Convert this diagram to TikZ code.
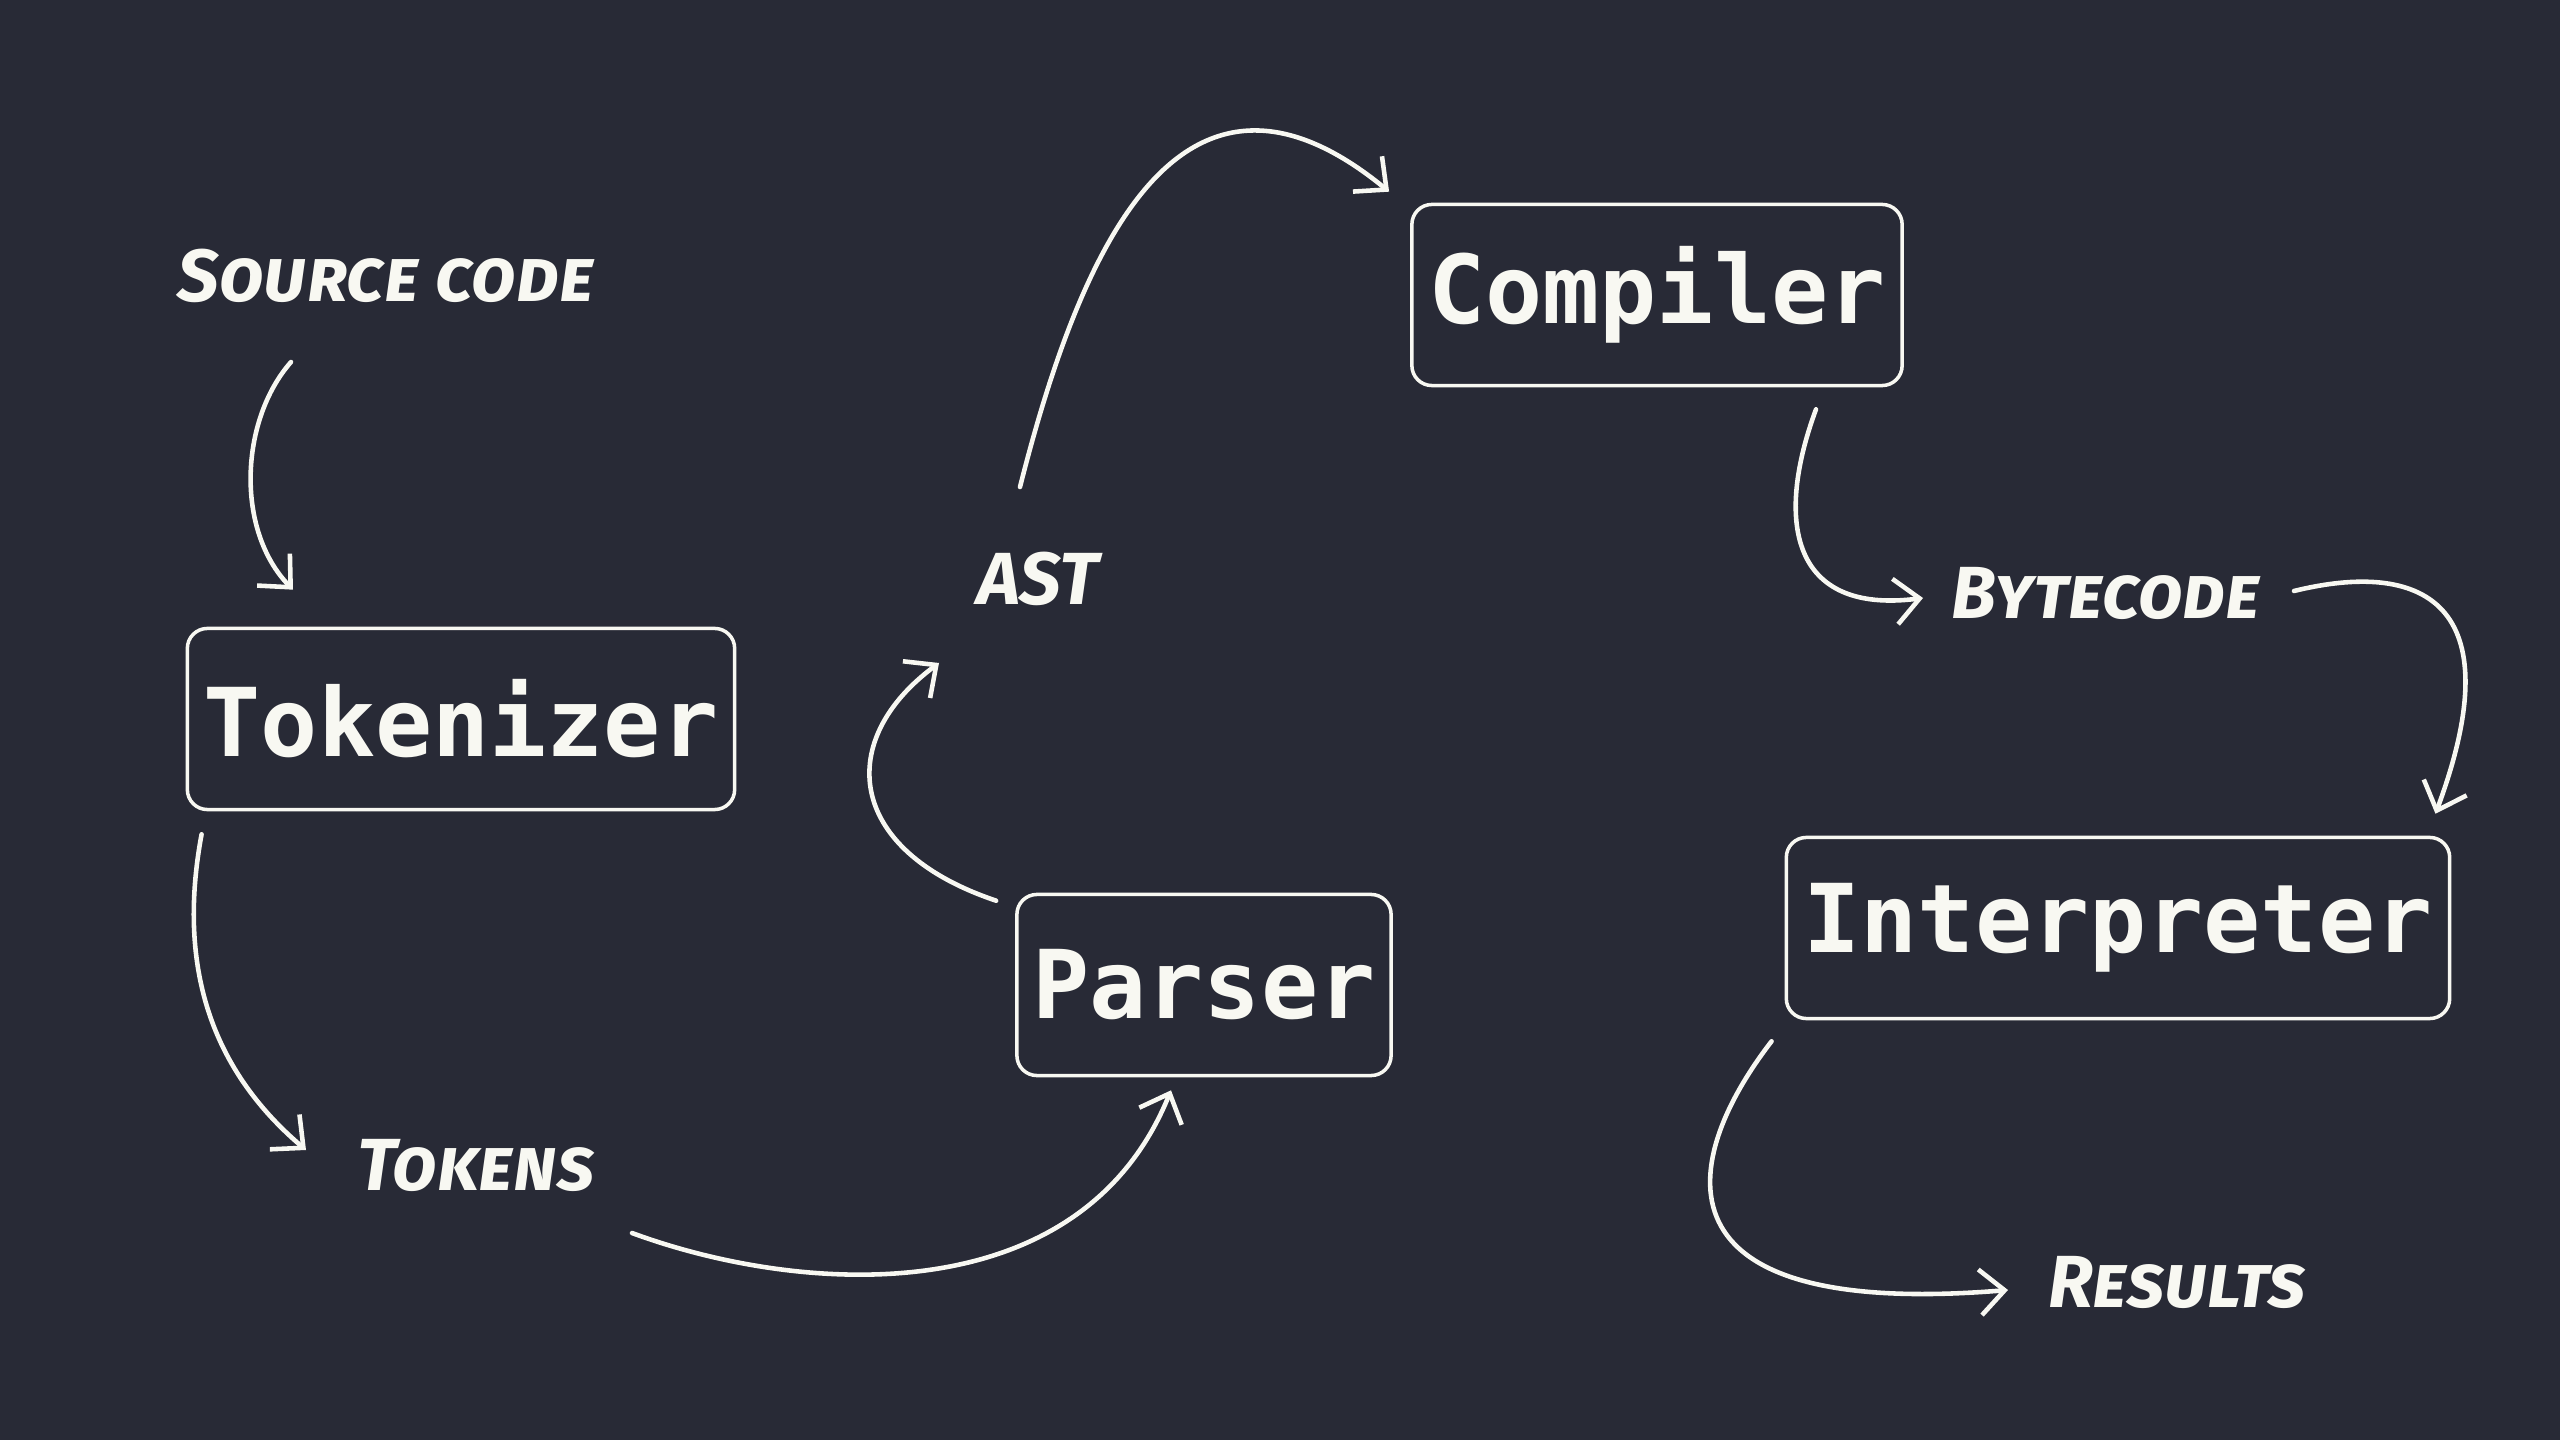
\documentclass[tikz,border=0pt]{standalone}
\usepackage{fontspec}
\setmonofont{DejaVu Sans Mono}
\newfontfamily\handfont{Fira Sans}
\usetikzlibrary{arrows.meta,calc}
\definecolor{bgc}{HTML}{282A36}
\definecolor{fgc}{HTML}{F8F8F2}
\tikzset{
  stage/.style={draw=fgc, line width=1pt, rounded corners=0.2cm, text=fgc,
    minimum height=1.81cm, inner sep=0pt,
    font=\ttfamily\bfseries\fontsize{27}{32}\selectfont},
  hand/.style={text=fgc, inner sep=0pt,
    font=\handfont\bfseries\itshape\scshape\fontsize{21}{25}\selectfont},
  arr/.style={draw=fgc, line width=1.3pt, line cap=round,
    -{Straight Barb[length=7pt,width=13pt,line width=1.3pt]}}
}
\begin{document}
\begin{tikzpicture}[x=0.01cm,y=-0.01cm]
\fill[bgc] (0,0) rectangle (2560,1440);
\useasboundingbox (0,0) rectangle (2560,1440);

\node[stage, minimum width=5.47cm] (tok) at (461,719) {Tokenizer};
\node[stage, minimum width=4.90cm] (comp) at (1657,295) {Compiler};
\node[stage, minimum width=3.74cm] (pars) at (1204,985) {Parser};
\node[stage, minimum width=6.63cm] (interp) at (2118,928) {Interpreter};

\node[hand] (src) at (386,276) {Source code};
\node[hand] (ast) at (1038,579) {AST};
\node[hand] (byte) at (2106,593) {Bytecode};
\node[hand] (tokens) at (476,1165) {Tokens};
\node[hand] (res) at (2177,1282) {Results};

\draw[arr] ($(src.center)+(-95,86)$) .. controls (240,420) and (235,530) .. ($(tok.north)+(-168,-37)$);
\draw[arr] ($(tok.south west)+(16,23)$) .. controls (180,950) and (200,1060) .. ($(tokens.center)+(-170,-15)$);
\draw[arr] ($(tokens.center)+(156,68)$) .. controls (800,1295) and (1080,1315) .. ($(pars.south)+(-33,13)$);
\draw[arr] ($(pars.north west)+(-19,8)$) .. controls (845,850) and (835,740) .. ($(ast.center)+(-99,84)$);
\draw[arr] ($(ast.center)+(-18,-92)$) .. controls (1080,250) and (1180,20) .. ($(comp.north west)+(-21,-11)$);
\draw[arr] ($(comp.south)+(159,22)$) .. controls (1775,520) and (1790,615) .. ($(byte.center)+(-183,5)$);
\draw[arr] ($(byte.center)+(188,-2)$) .. controls (2420,560) and (2515,600) .. ($(interp.north east)+(-16,-22)$);
\draw[arr] ($(interp.south west)+(-13,21)$) .. controls (1680,1160) and (1645,1320) .. ($(res.center)+(-169,8)$);
\end{tikzpicture}
\end{document}
